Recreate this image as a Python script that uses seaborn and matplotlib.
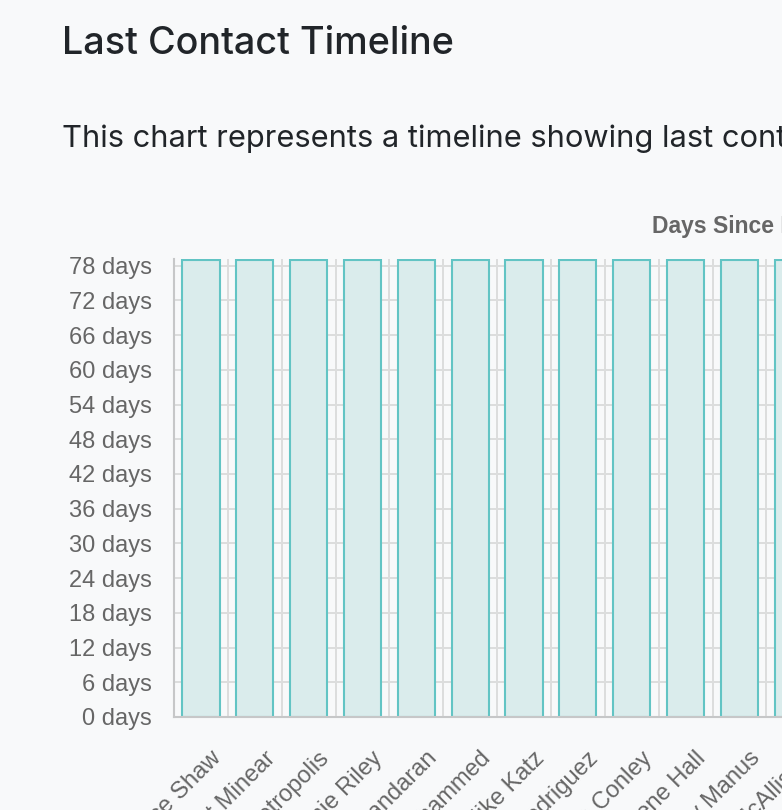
"""
Last contact timeline.

Bar chart of days since the last contact for each person.
"""

import numpy as np
import matplotlib
matplotlib.use("Agg")
import matplotlib.pyplot as plt
import matplotlib.transforms as mtransforms
import seaborn as sns

names = ['Bruce Shaw', 'Matt Minear', 'Alex Metropolis', 'Bonnie Riley',
         'Priya Chandaran', 'Ali Mohammed', 'Mike Katz', 'Ana Rodriguez',
         'Sean Conley', 'Irene Hall', 'Jeremy Manus', 'Jane McAllister',
         'Tom Becker', 'Laura Chen', 'David Kim', 'Sarah Nolan',
         'Peter Walsh', 'Emma Novak', 'Chris Patel', 'Olivia Grant',
         'Daniel Ortiz', 'Grace Lee', 'Henry Fox', 'Nina Brooks',
         'Paul Weber']
days = [79, 79, 79, 79, 79, 79, 79, 79, 79, 79, 79, 79, 79,
        79, 79, 79, 79, 79, 79, 79, 79, 79, 79, 79, 79]
y_ticks = list(range(0, 79, 6))

page_title = 'Last Contact Timeline'
page_text = ('This chart represents a timeline showing last contact '
             'with each person in days.')
chart_title = 'Days Since Last Contact'

BG = '#f8f9fa'
GRID = '#dcdddd'
AXIS = '#c6c7c8'
TEAL = '#62c4c4'
FILL = '#daecec'
TICK = '#666666'

W, H = 782, 810
DPI = 100
CAT_PX = 53.85


def create_timeline(names, days):
    """Draw the bar chart; the canvas crops the right part like the screenshot."""
    sns.set_theme(style='white')
    plt.rcParams['font.family'] = ['Liberation Sans', 'DejaVu Sans']

    fig = plt.figure(figsize=(W / DPI, H / DPI), dpi=DPI, facecolor=BG)
    left, bottom, top = 174, 717, 259
    width = CAT_PX * len(names)
    ax = fig.add_axes([left / W, (H - bottom) / H,
                       width / W, (bottom - top) / H])
    ax.set_facecolor(BG)

    sns.barplot(x=names, y=days, ax=ax, color=FILL, saturation=1,
                edgecolor=TEAL, linewidth=1.5, width=0.69, zorder=2)

    ax.set_xlim(-0.5, len(names) - 0.5)
    ax.set_ylim(0, 79.15)
    ax.set_yticks(y_ticks)
    ax.set_yticklabels([f'{v} days' for v in y_ticks])
    ax.set_xticks(np.arange(-0.5, len(names)), minor=True)

    ax.grid(which='major', axis='y', color=GRID, linewidth=1.4, zorder=0)
    ax.grid(which='minor', axis='x', color=GRID, linewidth=1.4, zorder=0)
    ax.set_axisbelow(True)

    ax.tick_params(axis='y', which='major', length=11.5, width=1.4,
                   color=GRID, pad=4.5, labelsize=17, labelcolor=TICK)
    ax.tick_params(axis='x', which='major', length=0, pad=27.5,
                   labelsize=17, labelcolor=TICK)
    ax.tick_params(axis='x', which='minor', length=11.5, width=1.4,
                   color=GRID)

    offset = mtransforms.ScaledTranslation(17 / DPI, 0, fig.dpi_scale_trans)
    for lab in ax.get_xticklabels():
        lab.set_rotation(45)
        lab.set_ha('right')
        lab.set_va('center')
        lab.set_rotation_mode('anchor')
        lab.set_transform(lab.get_transform() + offset)

    for side in ['top', 'right']:
        ax.spines[side].set_visible(False)
    for side in ['left', 'bottom']:
        ax.spines[side].set_color(AXIS)
        ax.spines[side].set_linewidth(1.5)
        ax.spines[side].set_zorder(3)
    ax.set_xlabel('')
    ax.set_ylabel('')

    # page heading and text above the chart
    fig.text(62 / W, 1 - 54 / H, page_title, fontsize=27.2, color='#212529',
             family=['Inter', 'DejaVu Sans'], fontweight='medium',
             va='baseline')
    fig.text(62 / W, 1 - 147 / H, page_text, fontsize=22.2, color='#212529',
             family=['Inter', 'DejaVu Sans'], va='baseline')
    fig.text(652 / W, 1 - 233 / H, chart_title, fontsize=16.5,
             color=TICK, fontweight='bold', va='baseline')

    fig.savefig('out.png', dpi=DPI, facecolor=BG)


def main():
    create_timeline(names, days)


if __name__ == '__main__':
    main()
